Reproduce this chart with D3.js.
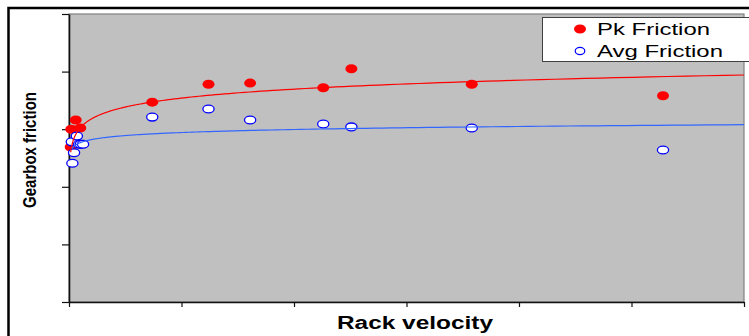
<!DOCTYPE html>
<html>
<head>
<meta charset="utf-8">
<script src="https://cdn.jsdelivr.net/npm/d3@7"></script>
<style>
body { margin: 0; background: #fff; }
svg { display: block; }
</style>
</head>
<body>
<svg width="749" height="336"></svg>
<script>
// values (axis has no labels, units are tick steps)
var pkX  = [0.015, 0.02, 0.06, 0.10, 0.74, 1.24, 1.61, 2.26, 2.51, 3.58, 5.28];
var pkY  = [2.69, 3.00, 3.16, 3.02, 3.47, 3.78, 3.80, 3.72, 4.05, 3.78, 3.58];
var avgX = [0.03, 0.045, 0.025, 0.07, 0.09, 0.105, 0.125, 0.74, 1.24, 1.61, 2.26, 2.51, 3.58, 5.28];
var avgY = [2.41, 2.59, 2.78, 2.88, 2.74, 2.74, 2.74, 3.21, 3.35, 3.16, 3.09, 3.04, 3.02, 2.64];
// log trendlines as drawn: y = a + b*ln(x)
var pkTrend  = [3.54, 0.224];
var avgTrend = [2.942, 0.076];
var xTicks = [0, 1, 2, 3, 4, 5, 6];
var yTicks = [0, 1, 2, 3, 4, 5];
var seriesNames = ["Pk Friction", "Avg Friction"];

var svg = d3.select("svg");

var x = d3.scaleLinear().domain([0, 6]).range([69, 744]),
	y = d3.scaleLinear().domain([0, 5]).range([302, 14]);

// outer chart frame
svg.append("rect").attr("x", 8.5).attr("y", 8).attr("width", 780).attr("height", 360)
	.attr("fill", "#fff").attr("stroke", "#000").attr("stroke-width", 2.5);

// plot area
svg.append("rect").attr("x", x(0)).attr("y", y(5)).attr("width", x(6) - x(0)).attr("height", y(0) - y(5))
	.attr("fill", "#c0c0c0").attr("stroke", "#808080").attr("stroke-width", 1.2);

var yAxis = svg.append("g").attr("transform", "translate(" + x(0) + ",0)")
	.call(d3.axisLeft(y).tickValues(yTicks).tickSize(7).tickSizeOuter(0).tickFormat(""));
var xAxis = svg.append("g").attr("transform", "translate(0," + y(0) + ")")
	.call(d3.axisBottom(x).tickValues(xTicks).tickSize(5).tickSizeOuter(0).tickFormat(""));
svg.selectAll(".domain").attr("stroke", "#111").attr("stroke-width", 1.6);
svg.selectAll(".tick line").attr("stroke", "#111").attr("stroke-width", 1.2);

function points(xs, ys) {
	return xs.map(function(v, i) { return {x: v, y: ys[i]}; });
}

function trend(xs, coef) {
	var lo = Math.log(d3.min(xs)), hi = Math.log(6);
	return d3.range(0, 201).map(function(i) {
		var xv = Math.exp(lo + (hi - lo) * i / 200);
		return {x: xv, y: coef[0] + coef[1] * Math.log(xv)};
	});
}

var line = d3.line().x(function(d) { return x(d.x); }).y(function(d) { return y(d.y); });

svg.append("g").selectAll("ellipse").data(points(pkX, pkY)).enter().append("ellipse")
	.attr("cx", function(d) { return x(d.x); }).attr("cy", function(d) { return y(d.y); })
	.attr("rx", 6).attr("ry", 4.5).attr("fill", "#ff0000");

svg.append("g").selectAll("ellipse").data(points(avgX, avgY)).enter().append("ellipse")
	.attr("cx", function(d) { return x(d.x); }).attr("cy", function(d) { return y(d.y); })
	.attr("rx", 5.6).attr("ry", 3.9).attr("fill", "#fff").attr("stroke", "#0000ff").attr("stroke-width", 1.3);

svg.append("path").datum(trend(pkX, pkTrend)).attr("d", line)
	.attr("fill", "none").attr("stroke", "#ff0000").attr("stroke-width", 1.2);
svg.append("path").datum(trend(avgX, avgTrend)).attr("d", line)
	.attr("fill", "none").attr("stroke", "#3366ff").attr("stroke-width", 1.2);

// legend
var legend = svg.append("g");
legend.append("rect").attr("x", 542.5).attr("y", 17.5).attr("width", 220).attr("height", 44)
	.attr("fill", "#fff").attr("stroke", "#404040").attr("stroke-width", 1);
legend.append("ellipse").attr("cx", 580).attr("cy", 29).attr("rx", 6).attr("ry", 4.5).attr("fill", "#ff0000");
legend.append("ellipse").attr("cx", 580).attr("cy", 51).attr("rx", 4.8).attr("ry", 3.6)
	.attr("fill", "#fff").attr("stroke", "#0000ff").attr("stroke-width", 1.2);
legend.selectAll("text").data(seriesNames).enter().append("text")
	.attr("x", 597).attr("y", function(d, i) { return 35 + i * 21.5; })
	.attr("textLength", function(d, i) { return i ? 126 : 113; })
	.attr("lengthAdjust", "spacingAndGlyphs")
	.style("font-family", "Liberation Sans, Arial, sans-serif").style("font-size", "17px")
	.text(function(d) { return d; });

// axis titles
svg.append("text").attr("x", 415).attr("y", 329)
	.attr("text-anchor", "middle").attr("textLength", 156).attr("lengthAdjust", "spacingAndGlyphs")
	.style("font-family", "Liberation Sans, Arial, sans-serif").style("font-size", "18px").style("font-weight", "bold")
	.text("Rack velocity");

svg.append("text").attr("transform", "translate(36,150) rotate(-90)")
	.attr("text-anchor", "middle").attr("textLength", 116).attr("lengthAdjust", "spacingAndGlyphs")
	.style("font-family", "Liberation Sans, Arial, sans-serif").style("font-size", "19px").style("font-weight", "bold")
	.text("Gearbox friction");
</script>
</body>
</html>
